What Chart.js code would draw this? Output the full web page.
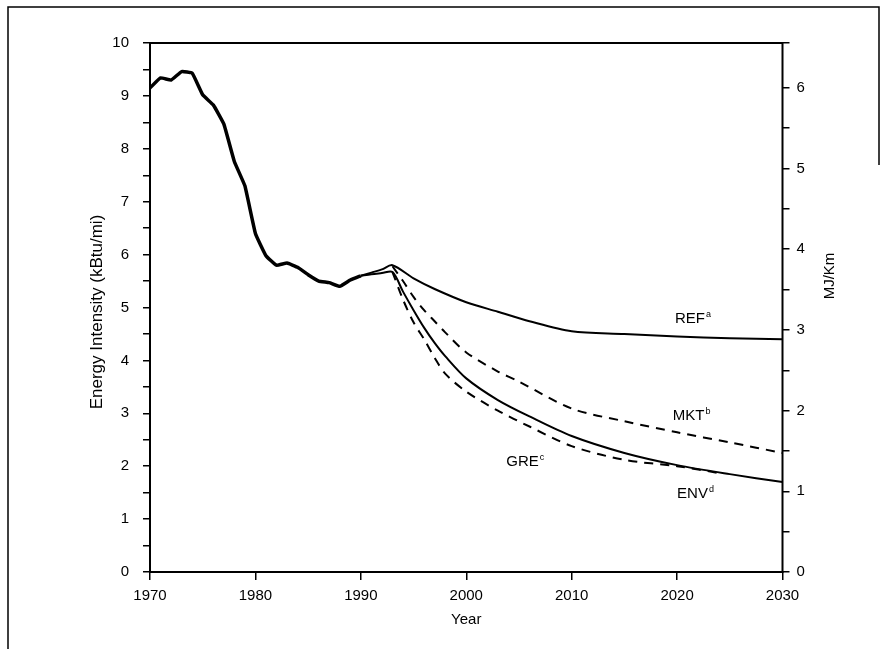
<!DOCTYPE html>
<html>
<head>
<meta charset="utf-8">
<script src="https://cdn.jsdelivr.net/npm/chart.js@4.4.1/dist/chart.umd.min.js"></script>
<style>
    html, body { margin: 0; padding: 0; background: #ffffff; }
    #wrap { position: relative; width: 886px; height: 649px; }
</style>
</head>
<body>
<div id="wrap"><canvas id="intensityChart" width="886" height="649"></canvas></div>
<script>
// historical light-duty energy intensity, kBtu/mi
const histYears = [1970, 1971, 1972, 1973, 1974, 1975, 1976, 1977, 1978, 1979, 1980, 1981, 1982, 1983, 1984, 1985, 1986, 1987, 1988, 1989, 1990];
const histValues = [9.15, 9.34, 9.30, 9.46, 9.43, 9.02, 8.83, 8.47, 7.76, 7.30, 6.40, 5.98, 5.80, 5.84, 5.76, 5.62, 5.50, 5.47, 5.40, 5.52, 5.60];

// scenarios
const refYears = [1990, 1991, 1992, 1993, 1995, 1997, 2000, 2003, 2006, 2010, 2015, 2020, 2025, 2030];
const refValues = [5.60, 5.66, 5.72, 5.80, 5.55, 5.35, 5.10, 4.92, 4.74, 4.55, 4.50, 4.45, 4.42, 4.40];

const mktYears = [1993, 1994, 1995, 1996, 1997, 1998, 2000, 2003, 2005, 2010, 2015, 2020, 2025, 2030];
const mktValues = [5.78, 5.50, 5.20, 4.95, 4.74, 4.53, 4.15, 3.79, 3.60, 3.09, 2.85, 2.64, 2.45, 2.25];

const greYears = [1990, 1991, 1992, 1993, 1994, 1995, 1996, 1997, 1998, 2000, 2003, 2006, 2010, 2015, 2020, 2025, 2030];
const greValues = [5.60, 5.63, 5.65, 5.67, 5.30, 4.95, 4.62, 4.33, 4.08, 3.66, 3.25, 2.94, 2.57, 2.25, 2.02, 1.85, 1.70];

const envYears = [1993, 1994, 1995, 1996, 1997, 1998, 2000, 2003, 2006, 2010, 2015, 2020, 2024];
const envValues = [5.67, 5.15, 4.72, 4.40, 4.05, 3.75, 3.41, 3.05, 2.75, 2.38, 2.12, 2.00, 1.87];

// curve labels: name, superscript, year / value of text start
const labelNames = ["REF", "MKT", "GRE", "ENV"];
const labelSups = ["a", "b", "c", "d"];
const labelYears = [2019.8, 2019.6, 2003.8, 2020.0];
const labelValues = [4.70, 2.88, 2.00, 1.40];

const KBTU_MI_TO_MJ_KM = 1.055056 / 1.609344;
const FONT = "'Liberation Sans', Arial, sans-serif";

const pts = (xs, ys) => xs.map((x, i) => ({ x, y: ys[i] }));

const lineStyle = (data, width, dash, tension) => ({
    data,
    borderColor: '#000000',
    borderWidth: width,
    borderDash: dash,
    pointRadius: 0,
    tension,
    fill: false
});

const decorPlugin = {
    id: 'decor',
    afterDraw(chart) {
        const ctx = chart.ctx;
        const a = chart.chartArea;
        const x = chart.scales.x;
        const y = chart.scales.y;
        ctx.save();
        ctx.strokeStyle = '#000';
        ctx.lineWidth = 2;
        ctx.strokeRect(a.left, a.top, a.right - a.left, a.bottom - a.top);

        // outer page frame
        ctx.lineWidth = 1.5;
        ctx.beginPath();
        ctx.moveTo(8, 649);
        ctx.lineTo(8, 7);
        ctx.lineTo(879, 7);
        ctx.lineTo(879, 165);
        ctx.stroke();

        // curve labels
        ctx.fillStyle = '#000';
        ctx.textBaseline = 'alphabetic';
        ctx.textAlign = 'left';
        labelNames.forEach((name, i) => {
            const px = x.getPixelForValue(labelYears[i]);
            const py = y.getPixelForValue(labelValues[i]);
            ctx.font = `15px ${FONT}`;
            ctx.fillText(name, px, py);
            const w = ctx.measureText(name).width;
            ctx.font = `9px ${FONT}`;
            ctx.fillText(labelSups[i], px + w + 1, py - 6);
        });

        // axis titles
        ctx.font = `15px ${FONT}`;
        ctx.textAlign = 'center';
        ctx.textBaseline = 'middle';
        ctx.fillText('Year', (a.left + a.right) / 2, 620);
        ctx.save();
        ctx.translate(97, 312);
        ctx.rotate(-Math.PI / 2);
        ctx.font = `17px ${FONT}`;
        ctx.fillText('Energy Intensity (kBtu/mi)', 0, 0);
        ctx.restore();
        ctx.save();
        ctx.translate(830, 276);
        ctx.rotate(-Math.PI / 2);
        ctx.fillText('MJ/Km', 0, 0);
        ctx.restore();
        ctx.restore();
    }
};

const tickFont = { family: FONT, size: 15 };
const intLabel = (v) => Math.abs(v - Math.round(v)) < 1e-6 ? String(Math.round(v)) : '';

new Chart(document.getElementById('intensityChart'), {
    type: 'line',
    data: {
        datasets: [
            lineStyle(pts(histYears, histValues), 3.5, [], 0.1),
            lineStyle(pts(refYears, refValues), 2, [], 0.3),
            lineStyle(pts(greYears, greValues), 2, [], 0.3),
            lineStyle(pts(mktYears, mktValues), 2, [9, 7], 0.3),
            lineStyle(pts(envYears, envValues), 2, [9, 7], 0.3)
        ]
    },
    options: {
        responsive: false,
        animation: false,
        layout: { padding: { top: 43, left: 0, right: 0, bottom: 0 } },
        plugins: { legend: { display: false }, tooltip: { enabled: false } },
        scales: {
            x: {
                type: 'linear',
                min: 1970,
                max: 2030,
                afterFit: (s) => { s.height = 77; },
                border: { display: false },
                grid: { drawOnChartArea: false, color: '#000', lineWidth: 1.5, tickLength: 8 },
                ticks: { stepSize: 10, color: '#000', font: tickFont, padding: 7, maxRotation: 0, callback: (v) => String(v) }
            },
            y: {
                position: 'left',
                min: 0,
                max: 10,
                afterFit: (s) => { s.width = 150; },
                border: { display: false },
                grid: { drawOnChartArea: false, color: '#000', lineWidth: 1.5, tickLength: 7 },
                ticks: { stepSize: 0.5, color: '#000', font: tickFont, padding: 14, callback: intLabel }
            },
            y2: {
                position: 'right',
                min: 0,
                max: 10 * KBTU_MI_TO_MJ_KM,
                afterFit: (s) => { s.width = 103.5; },
                border: { display: false },
                grid: { drawOnChartArea: false, color: '#000', lineWidth: 1.5, tickLength: 7 },
                ticks: { stepSize: 0.5, color: '#000', font: tickFont, padding: 7, callback: intLabel }
            }
        }
    },
    plugins: [decorPlugin]
});
</script>
</body>
</html>
